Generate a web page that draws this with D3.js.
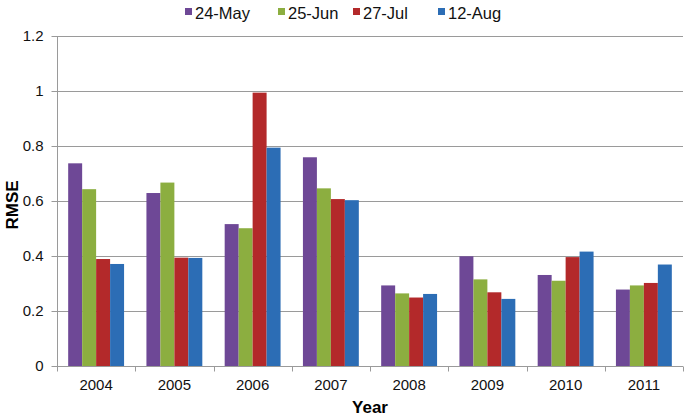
<!DOCTYPE html>
<html>
<head>
<meta charset="utf-8">
<script src="https://cdn.jsdelivr.net/npm/d3@7"></script>
<style>
  body { margin: 0; background: #fff; }
  svg { font-family: "Liberation Sans", Arial, sans-serif; }
</style>
</head>
<body>
<svg id="chart" width="684" height="417"></svg>
<script>
const years = ['2004', '2005', '2006', '2007', '2008', '2009', '2010', '2011'];
const seriesNames = ['24-May', '25-Jun', '27-Jul', '12-Aug'];
const may24 = [0.737, 0.629, 0.516, 0.759, 0.293, 0.399, 0.331, 0.278];
const jun25 = [0.643, 0.667, 0.501, 0.646, 0.264, 0.315, 0.310, 0.293];
const jul27 = [0.389, 0.394, 0.994, 0.607, 0.249, 0.268, 0.396, 0.302];
const aug12 = [0.371, 0.393, 0.794, 0.603, 0.262, 0.244, 0.416, 0.369];
const yTicks = [0, 0.2, 0.4, 0.6, 0.8, 1, 1.2];
const colors = ['#6E4896', '#8CAE40', '#B3292A', '#2C6DB5'];

const seriesValues = [may24, jun25, jul27, aug12];
const data = years.map((y, i) => ({
  year: y,
  values: seriesNames.map((s, j) => ({ key: s, value: seriesValues[j][i] }))
}));

const margin = { top: 36, right: 1, bottom: 51, left: 57 };
const width = 684 - margin.left - margin.right;
const height = 417 - margin.top - margin.bottom;

const svg = d3.select('#chart');
const g = svg.append('g').attr('transform', `translate(${margin.left},${margin.top})`);

// scales
const x0 = d3.scaleBand().domain(years).range([0, width]).padding(0);
const x1 = d3.scaleBand().domain(seriesNames).range([0, x0.bandwidth()])
  .paddingInner(0).paddingOuter(0.8);
const y = d3.scaleLinear().domain([0, 1.2]).range([height, 0]);

// gridlines
g.append('g')
  .selectAll('line')
  .data(yTicks.filter(d => d > 0))
  .enter()
  .append('line')
  .attr('x1', 0)
  .attr('x2', width)
  .attr('y1', d => Math.round(y(d)) + 0.5)
  .attr('y2', d => Math.round(y(d)) + 0.5)
  .attr('stroke', '#9a9a9a')
  .attr('stroke-width', 1);

// bars
const groups = g.selectAll('.grp')
  .data(data)
  .enter()
  .append('g')
  .attr('transform', d => `translate(${x0(d.year)},0)`);

groups.selectAll('rect')
  .data(d => d.values)
  .enter()
  .append('rect')
  .attr('x', d => x1(d.key))
  .attr('y', d => y(d.value))
  .attr('width', x1.bandwidth())
  .attr('height', d => height - y(d.value))
  .attr('fill', (d, i) => colors[i]);

// y axis
const yAxis = d3.axisLeft(y).tickValues(yTicks).tickSize(6).tickPadding(8)
  .tickFormat(d => d3.format('')(+d.toFixed(1)));
const yg = g.append('g').attr('transform', 'translate(0.5,0)').call(yAxis);
yg.select('.domain').attr('stroke', '#9a9a9a').attr('d', `M0,0V${height}`);
yg.selectAll('.tick line').attr('stroke', '#9a9a9a');
yg.selectAll('.tick text').style('font-size', '15px').attr('fill', '#111');

// x axis
const xAxis = d3.axisBottom(x0).tickSize(0).tickPadding(13);
const xg = g.append('g').attr('transform', `translate(0,${height + 0.5})`).call(xAxis);
xg.select('.domain').attr('stroke', '#9a9a9a').attr('d', `M0,0H${width}`);
xg.selectAll('.tick text').style('font-size', '15px').attr('fill', '#111');
// category separator ticks
xg.append('g')
  .selectAll('line')
  .data(years.map(d => x0(d)).concat([width]))
  .enter()
  .append('line')
  .attr('x1', d => Math.round(d) + 0.5)
  .attr('x2', d => Math.round(d) + 0.5)
  .attr('y1', 0)
  .attr('y2', 5)
  .attr('stroke', '#9a9a9a');

// axis titles
svg.append('text')
  .attr('x', margin.left + width / 2)
  .attr('y', 413)
  .attr('text-anchor', 'middle')
  .style('font-size', '17px')
  .style('font-weight', 'bold')
  .text('Year');

svg.append('text')
  .attr('transform', `translate(18,${margin.top + height / 2 + 4}) rotate(-90)`)
  .attr('text-anchor', 'middle')
  .style('font-size', '17px')
  .style('font-weight', 'bold')
  .text('RMSE');

// legend
const legendX = [185, 278, 353, 438];
const legend = svg.append('g');
seriesNames.forEach((s, i) => {
  legend.append('rect')
    .attr('x', legendX[i])
    .attr('y', 8)
    .attr('width', 7)
    .attr('height', 7)
    .attr('fill', colors[i]);
  legend.append('text')
    .attr('x', legendX[i] + 10)
    .attr('y', 19)
    .style('font-size', '16.5px')
    .attr('fill', '#111')
    .text(s);
});
</script>
</body>
</html>
